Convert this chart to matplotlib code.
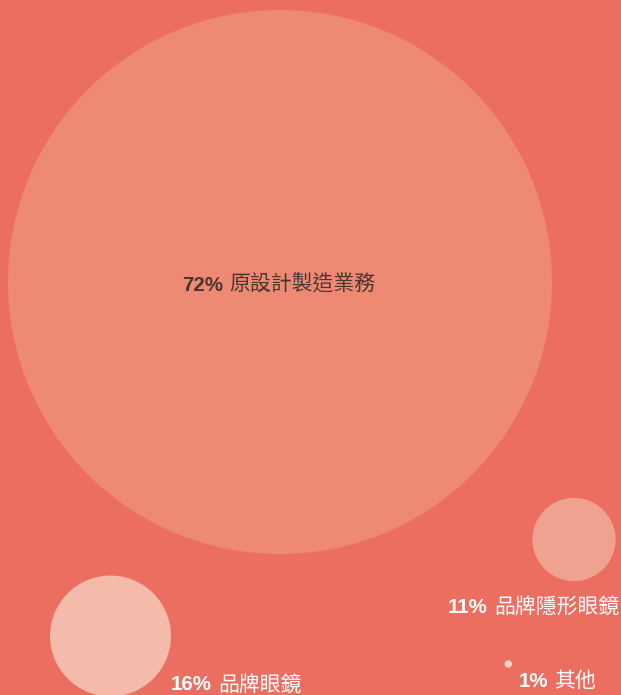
import matplotlib
matplotlib.use("Agg")
import matplotlib.pyplot as plt
from matplotlib.patches import Circle

# ---- data ----
categories = ["原設計製造業務", "品牌眼鏡", "品牌隱形眼鏡", "其他"]
values = [72, 16, 11, 1]
pct_labels = ["72%", "16%", "11%", "1%"]

# ---- layout / style ----
W, H = 621, 695
bg = "#EC6E61"
circle_colors = ["#EE8974", "#F4BBAB", "#F0A290", "#F7D2C9"]
centers = [(280, 282), (110.5, 636), (574, 539.5), (508.3, 664)]
scale = 272 / 72.0  # radius proportional to value
# label anchor (x, baseline y), horizontal alignment, text color
label_pos = [((279, 291), "center", "#4A3631"),
             ((171, 690.5), "left", "white"),
             ((619, 613), "right", "white"),
             ((519, 687), "left", "white")]
fs_pct = 14.8
fs_name = 15.0

fig = plt.figure(figsize=(W / 100, H / 100), dpi=100, facecolor=bg)
ax = fig.add_axes([0, 0, 1, 1])
ax.set_facecolor(bg)
ax.set_xlim(0, W)
ax.set_ylim(H, 0)
ax.set_aspect("equal")
ax.axis("off")

for v, c, col in zip(values, centers, circle_colors):
    ax.add_patch(Circle(c, v * scale, facecolor=col, edgecolor="none"))

renderer = fig.canvas.get_renderer()
pct_font = ["Liberation Sans", "DejaVu Sans"]
name_font = ["Noto Sans CJK TC", "DejaVu Sans"]
gap = 6  # px between percent and name

for pct, name, ((x, y), ha, tc) in zip(pct_labels, categories, label_pos):
    t1 = ax.text(0, y, pct, fontsize=fs_pct, fontweight="bold", family=pct_font,
                 color=tc, va="baseline", ha="left")
    t2 = ax.text(0, y, name, fontsize=fs_name, family=name_font, color=tc,
                 fontweight="medium", va="baseline", ha="left")
    w1 = t1.get_window_extent(renderer).width
    w2 = t2.get_window_extent(renderer).width
    total = w1 + gap + w2
    if ha == "center":
        x0 = x - total / 2
    elif ha == "right":
        x0 = x - total
    else:
        x0 = x
    t1.set_x(x0)
    t2.set_x(x0 + w1 + gap)

fig.savefig("out.png", dpi=100, facecolor=bg)
